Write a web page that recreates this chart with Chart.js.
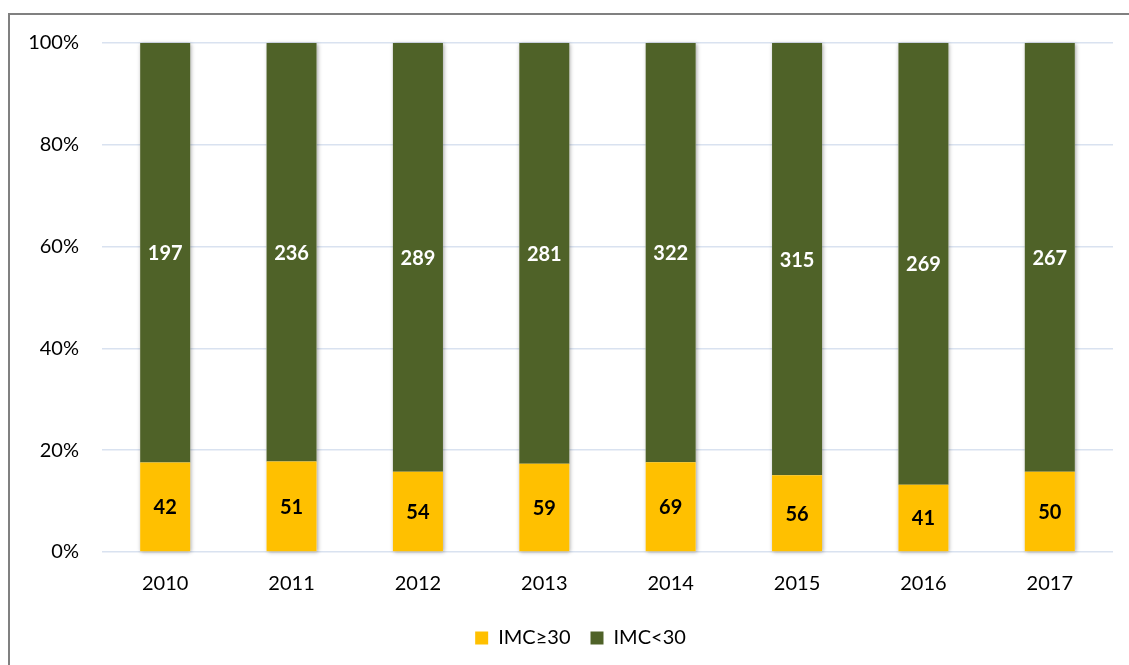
<!DOCTYPE html>
<html>
<head>
<meta charset="utf-8">
<script src="https://cdn.jsdelivr.net/npm/chart.js@4"></script>
<style>
  body { margin: 0; background: #fff; }
  #wrap { position: relative; width: 1129px; height: 665px; overflow: hidden; }
  #frame { position: absolute; left: 8px; top: 13px; width: 1200px; height: 800px; border: 2px solid #808080; pointer-events: none; }
</style>
</head>
<body>
<div id="wrap">
  <canvas id="imcChart" width="1129" height="665"></canvas>
  <div id="frame"></div>
</div>
<script>
// Get the canvas element
var ctx = document.getElementById('imcChart').getContext('2d');

let years = ['2010', '2011', '2012', '2013', '2014', '2015', '2016', '2017'];
let obese = [42, 51, 54, 59, 69, 56, 41, 50];       // IMC>=30
let notObese = [197, 236, 289, 281, 322, 315, 269, 267]; // IMC<30
let yTicks = [0, 20, 40, 60, 80, 100];

let seriesNames = ['IMC\u226530', 'IMC<30'];
let seriesColors = ['#ffc000', '#4f6228'];
let labelColors = ['#000', '#fff'];

const toPct = (arr) => arr.map((v, i) => v / (obese[i] + notObese[i]) * 100);

// soft shadow behind each stacked column
const barShadow = {
  id: 'barShadow',
  beforeDatasetsDraw(chart) {
    let c = chart.ctx;
    let low = chart.getDatasetMeta(0).data;
    let high = chart.getDatasetMeta(1).data;
    c.save();
    c.shadowColor = 'rgba(0,0,0,0.35)';
    c.shadowBlur = 4;
    c.shadowOffsetX = 1;
    c.shadowOffsetY = 1;
    c.fillStyle = '#fff';
    low.forEach((bar, i) => {
      let w = bar.width;
      c.fillRect(bar.x - w / 2, high[i].y, w, bar.base - high[i].y);
    });
    c.restore();
  }
};

// counts written in the middle of each segment
const countLabels = {
  id: 'countLabels',
  afterDatasetsDraw(chart) {
    let c = chart.ctx;
    c.save();
    c.font = 'bold 20px Lato';
    c.textAlign = 'center';
    c.textBaseline = 'middle';
    chart.data.datasets.forEach((ds, d) => {
      c.fillStyle = labelColors[d];
      chart.getDatasetMeta(d).data.forEach((bar, i) => {
        c.fillText(ds.counts[i], bar.x, (bar.y + bar.base) / 2 + 1);
      });
    });
    c.restore();
  }
};

// legend sits a bit right of the canvas centre
const legendShift = {
  id: 'legendShift',
  afterLayout(chart) {
    chart.legend.left += 48;
  }
};

new Chart(ctx, {
  type: 'bar',
  data: {
    labels: years,
    datasets: [
      { label: seriesNames[0], data: toPct(obese), counts: obese, backgroundColor: seriesColors[0] },
      { label: seriesNames[1], data: toPct(notObese), counts: notObese, backgroundColor: seriesColors[1] }
    ]
  },
  options: {
    responsive: false,
    animation: false,
    categoryPercentage: 1,
    barPercentage: 0.396,
    layout: { padding: { left: 0, right: 16, top: 43, bottom: 7 } },
    scales: {
      x: {
        stacked: true,
        grid: { display: false, drawTicks: false },
        border: { display: false },
        ticks: { color: '#000', font: { family: 'Lato', size: 20 }, padding: 20 },
        afterFit(scale) { scale.height = 56; }
      },
      y: {
        stacked: true,
        min: 0,
        max: 100,
        afterBuildTicks(scale) { scale.ticks = yTicks.map(v => ({ value: v })); },
        grid: { color: '#d9e2f0', lineWidth: 1.5, drawTicks: false, tickLength: 0 },
        border: { display: false },
        ticks: { color: '#000', font: { family: 'Lato', size: 20 }, padding: 23, callback: (v) => v + '%' },
        afterFit(scale) { scale.width = 102; }
      }
    },
    plugins: {
      legend: {
        position: 'bottom',
        labels: { boxWidth: 13, boxHeight: 13, padding: 20, color: '#000', font: { family: 'Lato', size: 20 } }
      },
      tooltip: { enabled: false }
    }
  },
  plugins: [barShadow, countLabels, legendShift]
});
</script>
</body>
</html>
